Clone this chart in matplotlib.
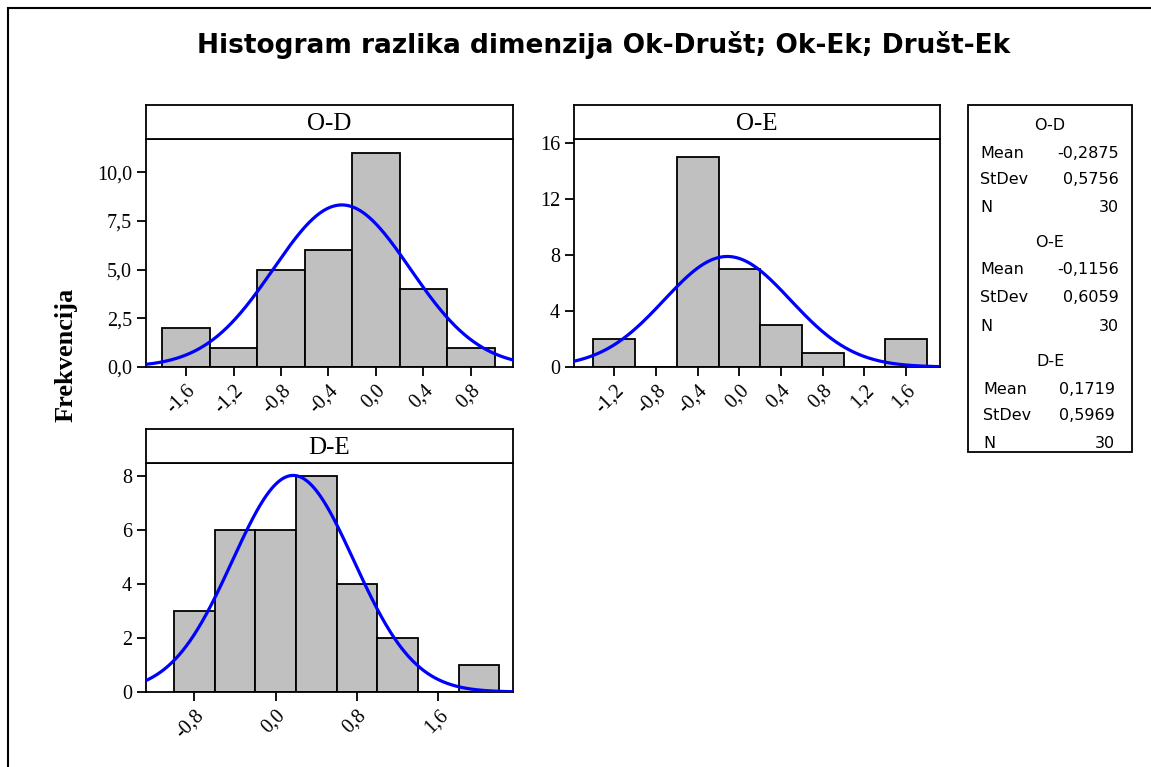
import numpy as np
import matplotlib.pyplot as plt
from matplotlib.patches import Rectangle

W, H = 1151, 767

# histogram counts per difference, bin width 0.4
od_centers = [-1.6, -1.2, -0.8, -0.4, 0.0, 0.4, 0.8]
od_counts = [2, 1, 5, 6, 11, 4, 1]
oe_centers = [-1.2, -0.8, -0.4, 0.0, 0.4, 0.8, 1.2, 1.6]
oe_counts = [2, 0, 15, 7, 3, 1, 0, 2]
de_centers = [-0.8, -0.4, 0.0, 0.4, 0.8, 1.2, 1.6, 2.0]
de_counts = [3, 6, 6, 8, 4, 2, 0, 1]

names = ["O-D", "O-E", "D-E"]
means = [-0.2875, -0.1156, 0.1719]
stdevs = [0.5756, 0.6059, 0.5969]
ns = [30, 30, 30]
bin_width = 0.4

od_xticks = [-1.6, -1.2, -0.8, -0.4, 0.0, 0.4, 0.8]
oe_xticks = [-1.2, -0.8, -0.4, 0.0, 0.4, 0.8, 1.2, 1.6]
de_xticks = [-0.8, 0.0, 0.8, 1.6]
od_yticks = [0, 2.5, 5.0, 7.5, 10.0]
oe_yticks = [0, 4, 8, 12, 16]
de_yticks = [0, 2, 4, 6, 8]

SERIF = "Liberation Serif"
LW = 1.3


def px_rect(x0, y0, x1, y1):
    return [x0 / W, 1 - y1 / H, (x1 - x0) / W, (y1 - y0) / H]


def comma(v, dec):
    return f"{v:.{dec}f}".replace(".", ",")


def panel(box, strip_top, centers, counts, i, xlim, ylim, xticks, yticks, ydec):
    x0, y0, x1, y1 = box
    ax = fig.add_axes(px_rect(x0, y0, x1, y1))
    ax.bar(centers, counts, width=bin_width, color="#c0c0c0",
           edgecolor="black", linewidth=LW, zorder=2)
    xs = np.linspace(xlim[0], xlim[1], 400)
    pdf = np.exp(-0.5 * ((xs - means[i]) / stdevs[i]) ** 2) / (stdevs[i] * np.sqrt(2 * np.pi))
    ax.plot(xs, ns[i] * bin_width * pdf, color="#0000ff", lw=2.3, zorder=3)
    ax.set_xlim(xlim)
    ax.set_ylim(ylim)
    ax.set_xticks(xticks)
    ax.set_xticklabels([comma(t, 1) for t in xticks], rotation=45,
                       ha="right", va="top", rotation_mode="anchor")
    ax.set_yticks(yticks)
    ax.set_yticklabels([comma(t, ydec) for t in yticks])
    ax.tick_params(direction="out", length=6.5, width=LW, labelsize=14.5, pad=3.5)
    for lab in ax.get_xticklabels() + ax.get_yticklabels():
        lab.set_fontfamily(SERIF)
    for s in ax.spines.values():
        s.set_linewidth(LW)

    sax = fig.add_axes(px_rect(x0, strip_top, x1, y0))
    sax.set_xticks([])
    sax.set_yticks([])
    for s in sax.spines.values():
        s.set_linewidth(LW)
    sax.text(0.5, 0.45, names[i], ha="center", va="center",
             fontsize=18, family=SERIF, transform=sax.transAxes)
    return ax


fig = plt.figure(figsize=(W / 100, H / 100), dpi=100)

# outer frame, open to the right and bottom
fig.patches.append(Rectangle((8 / W, -0.1), 2, 1 - 7.5 / H + 0.1, fill=False,
                             lw=1.5, edgecolor="black", transform=fig.transFigure))

fig.text(604 / W, 1 - 45 / H, "Histogram razlika dimenzija Ok-Društ; Ok-Ek; Društ-Ek",
         ha="center", va="center", fontsize=19, fontweight="bold", family="DejaVu Sans")

fig.text(66 / W, 1 - 355 / H, "Frekvencija", rotation=90, ha="center", va="center",
         fontsize=19, fontweight="bold", family=SERIF)

panel((146, 139, 513, 367), 105, od_centers, od_counts, 0,
      (-1.937, 1.154), (0, 11.7), od_xticks, od_yticks, 1)
panel((574, 139, 940, 367), 105, oe_centers, oe_counts, 1,
      (-1.587, 1.926), (0, 16.3), oe_xticks, oe_yticks, 0)
panel((146, 463, 513, 692), 429, de_centers, de_counts, 2,
      (-1.275, 2.334), (0, 8.48), de_xticks, de_yticks, 0)

# summary box
fig.patches.append(Rectangle((968 / W, 1 - 452 / H), (1132 - 968) / W, (452 - 105) / H,
                             fill=False, lw=LW, edgecolor="black", transform=fig.transFigure))
row_y = [[125, 153, 180, 208], [243, 270, 298, 326], [362, 389, 416, 444]]
lefts = [980, 980, 983]
rights = [1119, 1119, 1115]
for i in range(3):
    ys = row_y[i]
    kw = dict(fontsize=11.5, family="DejaVu Sans", va="center")
    fig.text(1050 / W, 1 - ys[0] / H, names[i], ha="center", **kw)
    rows = [("Mean", comma(means[i], 4)), ("StDev", comma(stdevs[i], 4)), ("N", str(ns[i]))]
    for (lab, val), y in zip(rows, ys[1:]):
        fig.text(lefts[i] / W, 1 - y / H, lab, ha="left", **kw)
        fig.text(rights[i] / W, 1 - y / H, val, ha="right", **kw)

fig.savefig("out.png", dpi=100, facecolor="white")
